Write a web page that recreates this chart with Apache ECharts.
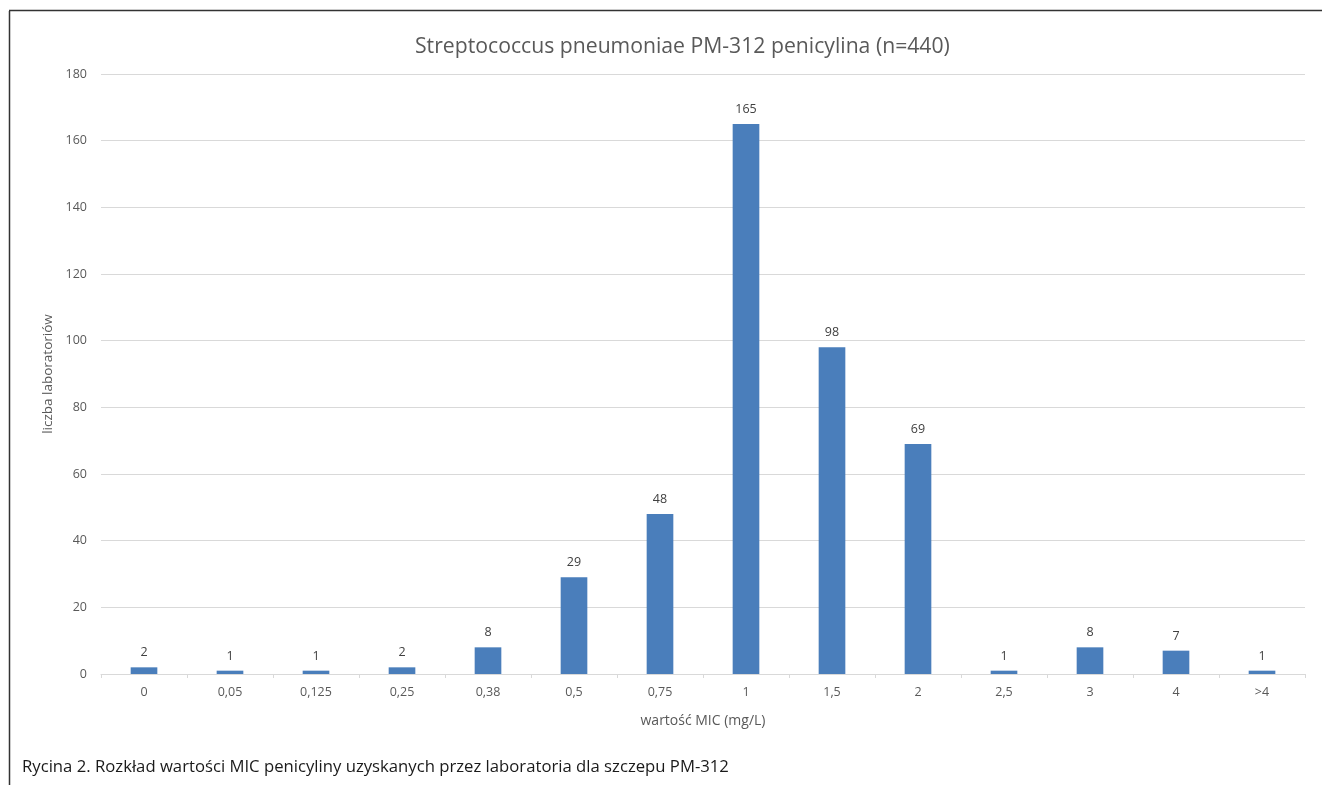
<!DOCTYPE html>
<html><head><meta charset="utf-8">
<script src="https://cdn.jsdelivr.net/npm/echarts@6/dist/echarts.min.js"></script>
<style>html,body{margin:0;padding:0;background:#fff}#c{width:1322px;height:785px}</style>
</head><body><div id="c"></div>
<script>
const categories = ['0','0,05','0,125','0,25','0,38','0,5','0,75','1','1,5','2','2,5','3','4','>4'];
const values = [2,1,1,2,8,29,48,165,98,69,1,8,7,1];
const titleText = 'Streptococcus pneumoniae PM-312 penicylina (n=440)';
const yName = 'liczba laboratoriów';
const xName = 'wartość MIC (mg/L)';
const caption = 'Rycina 2. Rozkład wartości MIC penicyliny uzyskanych przez laboratoria dla szczepu PM-312';
const F = '"Open Sans", sans-serif';
const chart = echarts.init(document.getElementById('c'), null, {renderer:'canvas'});
chart.setOption({
  animation:false,
  backgroundColor:'#fff',
  title:{text:titleText,left:410,top:31,textStyle:{fontFamily:F,fontSize:21.2,fontWeight:'normal',color:'#595959'}},
  grid:{left:101,right:17,top:74,bottom:111,containLabel:false},
  xAxis:{type:'category',data:categories,name:xName,nameLocation:'middle',nameGap:40,
    nameTextStyle:{fontFamily:F,fontSize:14,color:'#595959'},
    axisLine:{lineStyle:{color:'#d9d9d9'}},
    axisTick:{show:true,length:4,lineStyle:{color:'#d9d9d9'}},
    axisLabel:{fontFamily:F,fontSize:12.5,color:'#595959',margin:12}},
  yAxis:{type:'value',min:0,max:180,interval:20,name:yName,nameLocation:'middle',nameGap:45,
    nameTextStyle:{fontFamily:F,fontSize:13.5,color:'#595959'},
    axisLine:{show:false},axisTick:{show:false},
    axisLabel:{fontFamily:F,fontSize:12.5,color:'#595959',margin:14},
    splitLine:{lineStyle:{color:'#d9d9d9'}}},
  series:[{type:'bar',data:values,barWidth:'31%',
    itemStyle:{color:'#4a7ebb'},
    label:{show:true,position:'top',distance:8,fontFamily:F,fontSize:12.5,color:'#404040'}}],
  graphic:[
    {type:'line',shape:{x1:9.5,y1:11,x2:9.5,y2:785},style:{stroke:'#333',lineWidth:1.5}},
    {type:'line',shape:{x1:9,y1:10.5,x2:1322,y2:10.5},style:{stroke:'#333',lineWidth:1.5}},
    {type:'text',left:22,top:759,style:{text:caption,font:'16.7px "Open Sans", sans-serif',fill:'#1a1a1a'}}
  ]
});
</script></body></html>
